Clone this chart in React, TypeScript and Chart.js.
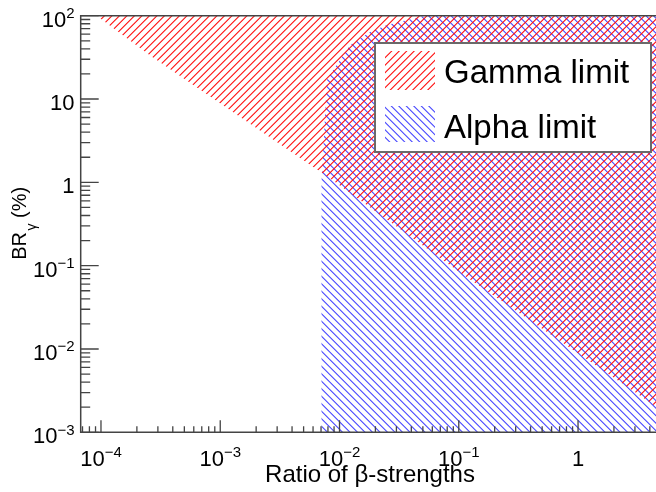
import React, { useEffect, useRef } from "react";
import { Chart, registerables } from "chart.js";

Chart.register(...registerables);

// ---- data ----
const xRange = [6.76e-5, 5];
const yRange = [1e-3, 100];

// lower boundary of the Gamma-limit excluded region (region above is hatched)
const gammaRatio = [9.2e-5, 2.6e-4, 8.3e-3, 0.109, 4.6, 10];
const gammaBR = [100, 33, 1.12, 0.078, 0.002, 0.00092];

// upper boundary of the Alpha-limit excluded region (region below is hatched)
const alphaRatio = [0.007, 0.00706, 0.00785, 0.00832, 0.01225, 0.018, 0.025, 0.0368, 0.052, 0.2, 10];
const alphaBR = [0.001, 1.0, 16.9, 19.4, 44.5, 63.7, 77.3, 88.8, 100, 130, 130];

const xTickValues = [1e-4, 1e-3, 1e-2, 1e-1, 1];
const xTickMantissa = ["10", "10", "10", "10", "1"];
const xTickExponent = ["\u22124", "\u22123", "\u22122", "\u22121", ""];
const yTickValues = [1e-3, 1e-2, 1e-1, 1, 10, 100];
const yTickMantissa = ["10", "10", "10", "1", "10", "10"];
const yTickExponent = ["\u22123", "\u22122", "\u22121", "", "", "2"];

const seriesLabels = ["Gamma limit", "Alpha limit"];
const seriesColors = ["#ff1010", "#4848ff"];
const xTitle = "Ratio of \u03b2-strengths";
const yTitleParts = ["BR", "\u03b3", " (%)"];

const FONT = '"Liberation Sans", Arial, Helvetica, sans-serif';
const CANVAS_W = 700;
const CANVAS_H = 492;

function makeHatch(ctx: CanvasRenderingContext2D, color: string, slash: boolean) {
  const s = 15;
  const c = document.createElement("canvas");
  c.width = s;
  c.height = s;
  const g = c.getContext("2d")!;
  g.strokeStyle = color;
  g.lineWidth = 1.1;
  g.beginPath();
  for (let k = -4; k <= 8; k++) {
    const off = k * 7.5 + 0.25;
    if (slash) {
      g.moveTo(off + 3, -3);
      g.lineTo(off - s - 3, s + 3);
    } else {
      g.moveTo(off - 3, -3);
      g.lineTo(off + s + 3, s + 3);
    }
  }
  g.stroke();
  return ctx.createPattern(c, "repeat")!;
}

type Run = { t: string; size: number; dy: number; gap?: number };

function runsWidth(ctx: CanvasRenderingContext2D, runs: Run[]) {
  let w = 0;
  for (const r of runs) {
    ctx.font = `${r.size}px ${FONT}`;
    w += ctx.measureText(r.t).width + (r.gap || 0);
  }
  return w;
}

function drawRuns(ctx: CanvasRenderingContext2D, runs: Run[], x: number, y: number) {
  let cx = x;
  ctx.textAlign = "left";
  ctx.textBaseline = "alphabetic";
  for (const r of runs) {
    ctx.font = `${r.size}px ${FONT}`;
    ctx.fillText(r.t, cx, y + r.dy);
    cx += ctx.measureText(r.t).width + (r.gap || 0);
  }
}

export default function App() {
  const ref = useRef<HTMLCanvasElement | null>(null);

  useEffect(() => {
    const canvas = ref.current!;
    const ctx0 = canvas.getContext("2d")!;
    const redHatch = makeHatch(ctx0, seriesColors[0], true);
    const blueHatch = makeHatch(ctx0, seriesColors[1], false);
    const patterns = [redHatch, blueHatch];

    const rootPlugin = {
      id: "rootStyle",
      afterDraw(chart: any) {
        const ctx: CanvasRenderingContext2D = chart.ctx;
        const { left, right, top, bottom } = chart.chartArea;
        const xs = chart.scales.x;
        const ys = chart.scales.y;
        ctx.save();

        // legend
        const lx = 375, ly = 43, lw = 276, lh = 109;
        ctx.fillStyle = "#ffffff";
        ctx.fillRect(lx, ly, lw, lh);
        ctx.strokeStyle = "#6a6a6a";
        ctx.lineWidth = 2;
        ctx.strokeRect(lx, ly, lw, lh);
        const swatchY = [51, 106];
        const swatchH = [39, 36];
        const textY = [82.7, 137.7];
        for (let i = 0; i < seriesLabels.length; i++) {
          ctx.fillStyle = patterns[i];
          ctx.fillRect(385, swatchY[i], 50, swatchH[i]);
          ctx.fillStyle = "#000";
          ctx.font = `33px ${FONT}`;
          ctx.textAlign = "left";
          ctx.textBaseline = "alphabetic";
          ctx.fillText(seriesLabels[i], 444, textY[i]);
        }

        // frame
        ctx.strokeStyle = "#444444";
        ctx.lineWidth = 1.5;
        ctx.beginPath();
        ctx.moveTo(left, top);
        ctx.lineTo(right, top);
        ctx.lineTo(right, bottom);
        ctx.lineTo(left, bottom);
        ctx.closePath();
        ctx.stroke();

        // ticks
        ctx.lineWidth = 1.3;
        ctx.beginPath();
        for (let d = -6; d <= 2; d++) {
          for (let m = 1; m <= 9; m++) {
            const v = m * Math.pow(10, d);
            if (v >= xRange[0] && v <= xRange[1]) {
              const px = xs.getPixelForValue(v);
              const len = m === 1 ? 12 : 6;
              ctx.moveTo(px, bottom);
              ctx.lineTo(px, bottom - len);
            }
            if (v >= yRange[0] * 0.999 && v <= yRange[1] * 1.001) {
              const py = ys.getPixelForValue(v);
              const len = m === 1 ? 18 : 9.5;
              ctx.moveTo(left, py);
              ctx.lineTo(left + len, py);
            }
          }
        }
        ctx.stroke();

        // tick labels
        ctx.fillStyle = "#000";
        for (let i = 0; i < xTickValues.length; i++) {
          const px = xs.getPixelForValue(xTickValues[i]);
          const runs: Run[] = [{ t: xTickMantissa[i], size: 22, dy: 0 }];
          if (xTickExponent[i]) runs.push({ t: xTickExponent[i], size: 15, dy: -8.6 });
          const w = runsWidth(ctx, runs);
          drawRuns(ctx, runs, px - w / 2, 465.7);
        }
        for (let i = 0; i < yTickValues.length; i++) {
          const py = ys.getPixelForValue(yTickValues[i]);
          const runs: Run[] = [{ t: yTickMantissa[i], size: 22, dy: 0 }];
          if (yTickExponent[i]) runs.push({ t: yTickExponent[i], size: 15, dy: -8.6 });
          const w = runsWidth(ctx, runs);
          drawRuns(ctx, runs, 74.5 - w, py + 11);
        }

        // x title
        ctx.font = `24px ${FONT}`;
        ctx.textAlign = "center";
        ctx.fillText(xTitle, 370, 481.7);

        // y title (rotated)
        ctx.save();
        ctx.translate(25.5, 223.3);
        ctx.rotate(-Math.PI / 2);
        const yr: Run[] = [
          { t: yTitleParts[0], size: 20, dy: 0, gap: 1.5 },
          { t: yTitleParts[1], size: 14, dy: 10 },
          { t: yTitleParts[2], size: 20, dy: 0 },
        ];
        const yw = runsWidth(ctx, yr);
        drawRuns(ctx, yr, -yw / 2, 0);
        ctx.restore();

        ctx.restore();
      },
    };

    const chart = new Chart(canvas, {
      type: "line",
      data: {
        datasets: [
          {
            label: seriesLabels[0],
            data: gammaRatio.map((x, i) => ({ x, y: gammaBR[i] })),
            fill: "end",
            backgroundColor: redHatch,
            borderColor: "rgba(0,0,0,0)",
            borderWidth: 0,
            pointRadius: 0,
            tension: 0,
          },
          {
            label: seriesLabels[1],
            data: alphaRatio.map((x, i) => ({ x, y: alphaBR[i] })),
            fill: "start",
            backgroundColor: blueHatch,
            borderColor: "rgba(0,0,0,0)",
            borderWidth: 0,
            pointRadius: 0,
            tension: 0,
          },
        ],
      },
      options: {
        animation: false,
        responsive: false,
        maintainAspectRatio: false,
        events: [],
        layout: {
          padding: { left: 80.7, right: CANVAS_W - 661.4, top: 15.7, bottom: CANVAS_H - 432.3 },
        },
        plugins: {
          legend: { display: false },
          tooltip: { enabled: false },
          title: { display: false },
        },
        scales: {
          x: { type: "logarithmic", min: xRange[0], max: xRange[1], display: false },
          y: { type: "logarithmic", min: yRange[0], max: yRange[1], display: false },
        },
      },
      plugins: [rootPlugin],
    } as any);

    return () => chart.destroy();
  }, []);

  return (
    <div
      style={{
        position: "fixed",
        left: 0,
        top: 0,
        width: 656,
        height: 492,
        overflow: "hidden",
        background: "#ffffff",
      }}
    >
      <canvas ref={ref} width={CANVAS_W} height={CANVAS_H} style={{ display: "block" }} />
    </div>
  );
}
